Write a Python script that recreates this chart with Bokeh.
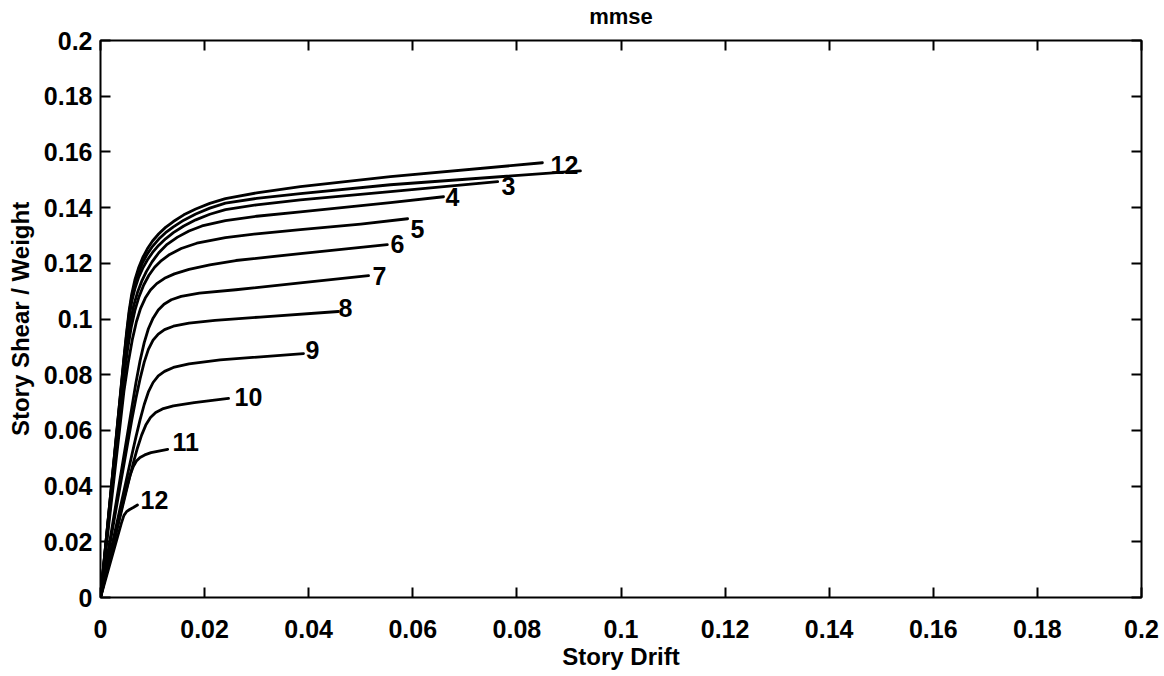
from bokeh.plotting import figure
from bokeh.models import LinearAxis, FixedTicker, Range1d, ColumnDataSource
from bokeh.embed import file_html
from bokeh.resources import INLINE
from bokeh.core.properties import value

# Story drift / normalised story shear for each of the 12 stories
drift_s1 = [0, 0.0045, 0.0050, 0.0055, 0.0060, 0.0066, 0.0073, 0.0081, 0.0090, 0.0100, 0.0112, 0.0125,
            0.0140, 0.0160, 0.0183, 0.0210, 0.0240, 0.0300, 0.0384, 0.0557, 0.0849]
shear_s1 = [0, 0.0860, 0.0950, 0.1030, 0.1090, 0.1140, 0.1183, 0.1220, 0.1252, 0.1280, 0.1306, 0.1329,
            0.1350, 0.1374, 0.1395, 0.1415, 0.1432, 0.1453, 0.1475, 0.1511, 0.1561]

drift_s2 = [0, 0.0045, 0.0050, 0.0055, 0.0060, 0.0066, 0.0073, 0.0081, 0.0090, 0.0100, 0.0112, 0.0125,
            0.0140, 0.0160, 0.0183, 0.0210, 0.0240, 0.0300, 0.0384, 0.0557, 0.0922]
shear_s2 = [0, 0.0855, 0.0942, 0.1020, 0.1078, 0.1126, 0.1167, 0.1203, 0.1234, 0.1261, 0.1287, 0.1310,
            0.1331, 0.1355, 0.1377, 0.1398, 0.1416, 0.1433, 0.1450, 0.1482, 0.1532]

drift_s3 = [0, 0.0045, 0.0050, 0.0055, 0.0060, 0.0066, 0.0073, 0.0081, 0.0090, 0.0100, 0.0112, 0.0125,
            0.0140, 0.0160, 0.0183, 0.0210, 0.0240, 0.0300, 0.0384, 0.0557, 0.0763]
shear_s3 = [0, 0.0845, 0.0930, 0.1005, 0.1062, 0.1108, 0.1148, 0.1182, 0.1212, 0.1239, 0.1265, 0.1288,
            0.1310, 0.1334, 0.1356, 0.1376, 0.1393, 0.1410, 0.1428, 0.1457, 0.1493]

drift_s4 = [0, 0.0045, 0.0052, 0.0058, 0.0064, 0.0071, 0.0079, 0.0088, 0.0099, 0.0112, 0.0128, 0.0148,
            0.0170, 0.0195, 0.0240, 0.0300, 0.0384, 0.0557, 0.0659]
shear_s4 = [0, 0.0820, 0.0925, 0.0995, 0.1050, 0.1095, 0.1135, 0.1170, 0.1205, 0.1238, 0.1268, 0.1294,
            0.1316, 0.1334, 0.1353, 0.1369, 0.1385, 0.1418, 0.1439]

drift_s5 = [0, 0.0045, 0.0052, 0.0059, 0.0066, 0.0074, 0.0083, 0.0093, 0.0104, 0.0117, 0.0133, 0.0155,
            0.0185, 0.0240, 0.0300, 0.0384, 0.0500, 0.0590]
shear_s5 = [0, 0.0790, 0.0890, 0.0970, 0.1030, 0.1080, 0.1122, 0.1157, 0.1186, 0.1210, 0.1232, 0.1253,
            0.1272, 0.1292, 0.1306, 0.1321, 0.1341, 0.1360]

drift_s6 = [0, 0.0045, 0.0053, 0.0061, 0.0069, 0.0077, 0.0086, 0.0096, 0.0108, 0.0123, 0.0142, 0.0170,
            0.0210, 0.0260, 0.0384, 0.0551]
shear_s6 = [0, 0.0740, 0.0840, 0.0925, 0.0990, 0.1038, 0.1075, 0.1104, 0.1127, 0.1146, 0.1162, 0.1178,
            0.1194, 0.1210, 0.1235, 0.1267]

drift_s7 = [0, 0.0060, 0.0068, 0.0076, 0.0084, 0.0092, 0.0101, 0.0111, 0.0122, 0.0136, 0.0155, 0.0190,
            0.0260, 0.0384, 0.0515]
shear_s7 = [0, 0.0680, 0.0770, 0.0850, 0.0915, 0.0965, 0.1003, 0.1032, 0.1053, 0.1069, 0.1081, 0.1093,
            0.1105, 0.1130, 0.1156]

drift_s8 = [0, 0.0060, 0.0068, 0.0076, 0.0084, 0.0092, 0.0101, 0.0111, 0.0123, 0.0140, 0.0170, 0.0220,
            0.0307, 0.0457]
shear_s8 = [0, 0.0636, 0.0715, 0.0785, 0.0845, 0.0891, 0.0924, 0.0946, 0.0962, 0.0974, 0.0985, 0.0995,
            0.1007, 0.1027]

drift_s9 = [0, 0.0060, 0.0068, 0.0076, 0.0084, 0.0092, 0.0101, 0.0111, 0.0123, 0.0140, 0.0170, 0.0230,
            0.0390]
shear_s9 = [0, 0.0510, 0.0576, 0.0638, 0.0693, 0.0738, 0.0772, 0.0796, 0.0812, 0.0826, 0.0839, 0.0853,
            0.0876]

drift_s10 = [0, 0.0055, 0.0063, 0.0071, 0.0079, 0.0087, 0.0096, 0.0106, 0.0119, 0.0140, 0.0180, 0.0246]
shear_s10 = [0, 0.0424, 0.0483, 0.0537, 0.0583, 0.0619, 0.0646, 0.0664, 0.0677, 0.0688, 0.0700, 0.0715]

drift_s11 = [0, 0.0045, 0.0051, 0.0057, 0.0063, 0.0069, 0.0076, 0.0085, 0.0097, 0.0129]
shear_s11 = [0, 0.0355, 0.0400, 0.0440, 0.0470, 0.0490, 0.0503, 0.0512, 0.0520, 0.0532]

drift_s12 = [0, 0.0040, 0.0045, 0.0050, 0.0056, 0.0063, 0.0071]
shear_s12 = [0, 0.0266, 0.0295, 0.0308, 0.0316, 0.0323, 0.0332]

# Story-number labels placed at the end of each curve
label_text = ["12", "3", "4", "5", "6", "7", "8", "9", "10", "11", "12"]
label_x = [0.08646, 0.07704, 0.06628, 0.05956, 0.05572, 0.05226, 0.04573, 0.03939, 0.02574, 0.01383, 0.00768]
label_y = [0.15538, 0.14785, 0.14391, 0.13226, 0.12706, 0.11559, 0.10412, 0.08871, 0.07186, 0.05573, 0.03495]

tick_values = [0, 0.02, 0.04, 0.06, 0.08, 0.1, 0.12, 0.14, 0.16, 0.18, 0.2]
tick_labels = ["0", "0.02", "0.04", "0.06", "0.08", "0.1", "0.12", "0.14", "0.16", "0.18", "0.2"]

FONT = "Liberation Sans"

p = figure(
    width=1164, height=676,
    x_range=Range1d(0, 0.2), y_range=Range1d(0, 0.2),
    output_backend="svg", toolbar_location=None,
    min_border_left=100, min_border_right=23,
    min_border_top=39, min_border_bottom=79,
)
p.background_fill_color = "white"
p.border_fill_color = "white"
p.grid.visible = False
p.outline_line_color = "black"
p.outline_line_width = 2

overrides = {v: s for v, s in zip(tick_values, tick_labels)}
blank = {v: "" for v in tick_values}

for ax in (p.xaxis[0], p.yaxis[0]):
    ax.ticker = FixedTicker(ticks=tick_values)
    ax.major_label_overrides = overrides
    ax.major_tick_in = 10
    ax.major_tick_out = 0
    ax.minor_tick_in = 0
    ax.minor_tick_out = 0
    ax.axis_line_color = None
    ax.major_tick_line_width = 2
    ax.major_tick_line_color = "black"
    ax.major_label_text_font = FONT
    ax.major_label_text_font_size = "25px"
    ax.major_label_text_font_style = "bold"
    ax.major_label_text_color = "black"
    ax.axis_label_text_font = FONT
    ax.axis_label_text_font_size = "24px"
    ax.axis_label_text_font_style = "bold"
    ax.axis_label_text_color = "black"

p.xaxis.axis_label = "Story Drift"
p.yaxis.axis_label = "Story Shear / Weight"
p.xaxis.major_label_standoff = 22
p.xaxis.axis_label_standoff = 2
p.yaxis.major_label_standoff = 8
p.yaxis.axis_label_standoff = 7

# Box ticks on the top and right edges; the top axis carries the title
frame_axes = {}
for side in ("above", "right"):
    ax = LinearAxis(
        ticker=FixedTicker(ticks=tick_values),
        major_label_overrides=blank,
        major_label_text_font_size="0px",
        major_label_standoff=0,
        major_tick_in=10, major_tick_out=0,
        minor_tick_in=0, minor_tick_out=0,
        major_tick_line_width=2,
        major_tick_line_color="black",
        axis_line_color=None,
    )
    p.add_layout(ax, side)
    frame_axes[side] = ax

top = frame_axes["above"]
top.axis_label = "mmse"
top.axis_label_text_font = FONT
top.axis_label_text_font_size = "22px"
top.axis_label_text_font_style = "bold"
top.axis_label_text_color = "black"
top.axis_label_standoff = 12

curves = [
    (drift_s1, shear_s1), (drift_s2, shear_s2), (drift_s3, shear_s3),
    (drift_s4, shear_s4), (drift_s5, shear_s5), (drift_s6, shear_s6),
    (drift_s7, shear_s7), (drift_s8, shear_s8), (drift_s9, shear_s9),
    (drift_s10, shear_s10), (drift_s11, shear_s11), (drift_s12, shear_s12),
]
for xs, ys in curves:
    p.line(xs, ys, line_color="black", line_width=2.8, line_join="round", line_cap="round")

labels = ColumnDataSource(dict(x=label_x, y=label_y, text=label_text))
p.text(x="x", y="y", text="text", source=labels,
       text_font=value(FONT), text_font_size="25px", text_font_style="bold",
       text_align="left", text_baseline="middle", text_color="black")

open("out.html", "w").write(file_html(p, INLINE))
